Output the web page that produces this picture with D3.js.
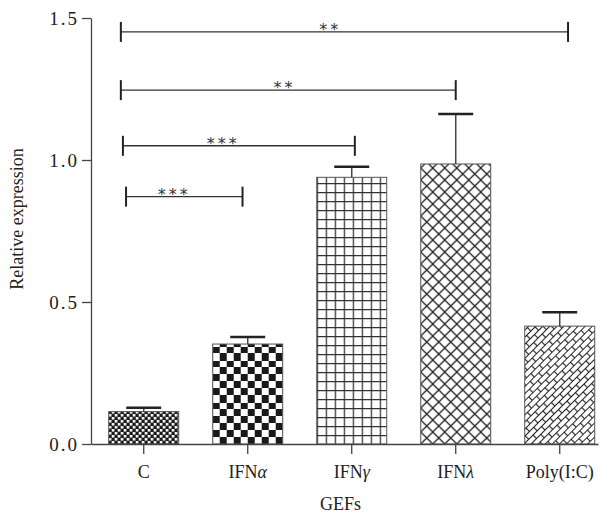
<!DOCTYPE html>
<html>
<head>
<meta charset="utf-8">
<script src="https://cdnjs.cloudflare.com/ajax/libs/d3/7.8.5/d3.min.js"></script>
<style>
  body { margin: 0; background: #fff; }
  svg { display: block; }
  .axis text { font-family: "Liberation Serif", "DejaVu Serif", serif; font-size: 18px; fill: #222; }
  .axis path, .axis line { stroke: #444; stroke-width: 1.3; }
  .yaxis text { font-size: 19px; letter-spacing: 2px; }
  .title { font-family: "Liberation Serif", "DejaVu Serif", serif; font-size: 18px; fill: #222; }
  .stars { font-family: "DejaVu Sans", sans-serif; font-size: 16px; fill: #333; letter-spacing: 3px; }
</style>
</head>
<body>
<svg id="chart" width="610" height="515"></svg>
<script>
// bars
var categories = ["C", "IFNα", "IFNγ", "IFNλ", "Poly(I:C)"];
var means = [0.114, 0.352, 0.939, 0.986, 0.415];
var errors = [0.014, 0.025, 0.037, 0.176, 0.049];
var patterns = ["fineCheck", "bigCheck", "grid", "cross", "brick"];

// y ticks
var yTicks = [0.0, 0.5, 1.0, 1.5];

// significance brackets (x in category index units, y in data units)
var bracketY = [0.871, 1.05, 1.246, 1.451];
var bracketStart = [-0.17, -0.2, -0.22, -0.22];
var bracketEnd = [0.95, 2.03, 3.0, 4.08];
var bracketLabelAt = [0.28, 0.75, 1.34, 1.78];
var bracketLabel = ["***", "***", "**", "**"];

var svg = d3.select('#chart');
var x0 = 91, x1 = 598, yTop = 18, yBottom = 444;

var x = d3.scaleBand().domain(categories).range([x0, x1])
    .paddingInner(0.327).paddingOuter(0.101).align(0.844);
var y = d3.scaleLinear().domain([0, 1.5]).range([yBottom, yTop]);
// category index -> x of band centre
var xi = d3.scaleLinear().domain([0, 1])
    .range([x(categories[0]) + x.bandwidth() / 2, x(categories[1]) + x.bandwidth() / 2]);

// pattern definitions, anchored on each bar
var defs = svg.append('defs');
categories.forEach(function(c, i) {
    var p = defs.append('pattern').attr('id', 'pat' + i)
        .attr('patternUnits', 'userSpaceOnUse')
        .attr('x', x(c)).attr('y', yBottom);
    var kind = patterns[i];
    if (kind == 'fineCheck') {
        p.attr('width', 6).attr('height', 6);
        p.append('rect').attr('width', 6).attr('height', 6).attr('fill', '#1a1a1a');
        p.append('rect').attr('width', 2.6).attr('height', 2.6).attr('fill', '#fff');
        p.append('rect').attr('x', 3).attr('y', 3).attr('width', 2.6).attr('height', 2.6).attr('fill', '#fff');
    } else if (kind == 'bigCheck') {
        p.attr('width', 14).attr('height', 14);
        p.append('rect').attr('width', 14).attr('height', 14).attr('fill', '#fff');
        p.append('rect').attr('width', 7).attr('height', 7).attr('fill', '#1a1a1a');
        p.append('rect').attr('x', 7).attr('y', 7).attr('width', 7).attr('height', 7).attr('fill', '#1a1a1a');
    } else if (kind == 'grid') {
        p.attr('width', 9).attr('height', 9);
        p.append('rect').attr('width', 9).attr('height', 9).attr('fill', '#fff');
        p.append('path').attr('d', 'M0.5,0V9M0,0.5H9').attr('stroke', '#333').attr('stroke-width', 1.5);
    } else if (kind == 'cross') {
        p.attr('width', 12).attr('height', 12);
        p.append('rect').attr('width', 12).attr('height', 12).attr('fill', '#fff');
        p.append('path').attr('d', 'M-3,-3L15,15M-3,15L15,-3').attr('stroke', '#222').attr('stroke-width', 1.3);
    } else {
        p.attr('width', 12).attr('height', 10).attr('patternTransform', 'rotate(-45)');
        p.append('rect').attr('width', 12).attr('height', 10).attr('fill', '#fff');
        p.append('path').attr('d', 'M0,0.5H12M0,5.5H12M0.5,0V5.5M6.5,5.5V10')
            .attr('stroke', '#222').attr('stroke-width', 1.2);
    }
});

// bars
svg.append('g').selectAll('rect').data(categories).enter().append('rect')
    .attr('x', function(d) { return x(d); })
    .attr('y', function(d, i) { return y(means[i]); })
    .attr('width', x.bandwidth())
    .attr('height', function(d, i) { return yBottom - y(means[i]); })
    .attr('fill', function(d, i) { return 'url(#pat' + i + ')'; })
    .attr('stroke', '#555').attr('stroke-width', 1);

// error bars
var eb = svg.append('g').selectAll('g').data(categories).enter().append('g');
eb.append('line')
    .attr('x1', function(d) { return x(d) + x.bandwidth() / 2; })
    .attr('x2', function(d) { return x(d) + x.bandwidth() / 2; })
    .attr('y1', function(d, i) { return y(means[i]); })
    .attr('y2', function(d, i) { return y(means[i] + errors[i]); })
    .attr('stroke', '#444').attr('stroke-width', 1.5);
eb.append('line')
    .attr('x1', function(d) { return x(d) + x.bandwidth() / 4; })
    .attr('x2', function(d) { return x(d) + x.bandwidth() * 3 / 4; })
    .attr('y1', function(d, i) { return y(means[i] + errors[i]); })
    .attr('y2', function(d, i) { return y(means[i] + errors[i]); })
    .attr('stroke', '#222').attr('stroke-width', 2.5);

// axes
var xAxis = svg.append('g').attr('class', 'axis')
    .attr('transform', 'translate(0,' + yBottom + ')')
    .call(d3.axisBottom(x).tickSize(10).tickSizeOuter(0).tickPadding(11));
xAxis.selectAll('.tick text').each(function(d) {
    var t = d3.select(this).text('');
    if (d.indexOf('IFN') == 0) {
        t.append('tspan').text('IFN');
        t.append('tspan').attr('font-style', 'italic').text(d.slice(3));
    } else {
        t.text(d);
    }
});

svg.append('g').attr('class', 'axis yaxis')
    .attr('transform', 'translate(' + x0 + ',0)')
    .call(d3.axisLeft(y).tickValues(yTicks).tickFormat(d3.format('.1f'))
        .tickSize(9).tickSizeOuter(0).tickPadding(3));

svg.append('text').attr('class', 'title')
    .attr('transform', 'translate(23,219) rotate(-90)')
    .attr('text-anchor', 'middle').text('Relative expression');
svg.append('text').attr('class', 'title')
    .attr('x', (x0 + x1) / 2 - 4).attr('y', 510)
    .attr('text-anchor', 'middle').text('GEFs');

// significance brackets
var br = svg.append('g').selectAll('g').data(bracketY).enter().append('g');
br.append('line')
    .attr('x1', function(d, i) { return xi(bracketStart[i]); })
    .attr('x2', function(d, i) { return xi(bracketEnd[i]); })
    .attr('y1', function(d) { return y(d); })
    .attr('y2', function(d) { return y(d); })
    .attr('stroke', '#333').attr('stroke-width', 1.4);
[bracketStart, bracketEnd].forEach(function(arr) {
    br.append('line')
        .attr('x1', function(d, i) { return xi(arr[i]); })
        .attr('x2', function(d, i) { return xi(arr[i]); })
        .attr('y1', function(d) { return y(d) - 10; })
        .attr('y2', function(d) { return y(d) + 10; })
        .attr('stroke', '#222').attr('stroke-width', 2);
});
br.append('text').attr('class', 'stars')
    .attr('x', function(d, i) { return xi(bracketLabelAt[i]) + 1.5; })
    .attr('y', function(d) { return y(d) + 3; })
    .attr('text-anchor', 'middle')
    .text(function(d, i) { return bracketLabel[i]; });
</script>
</body>
</html>
